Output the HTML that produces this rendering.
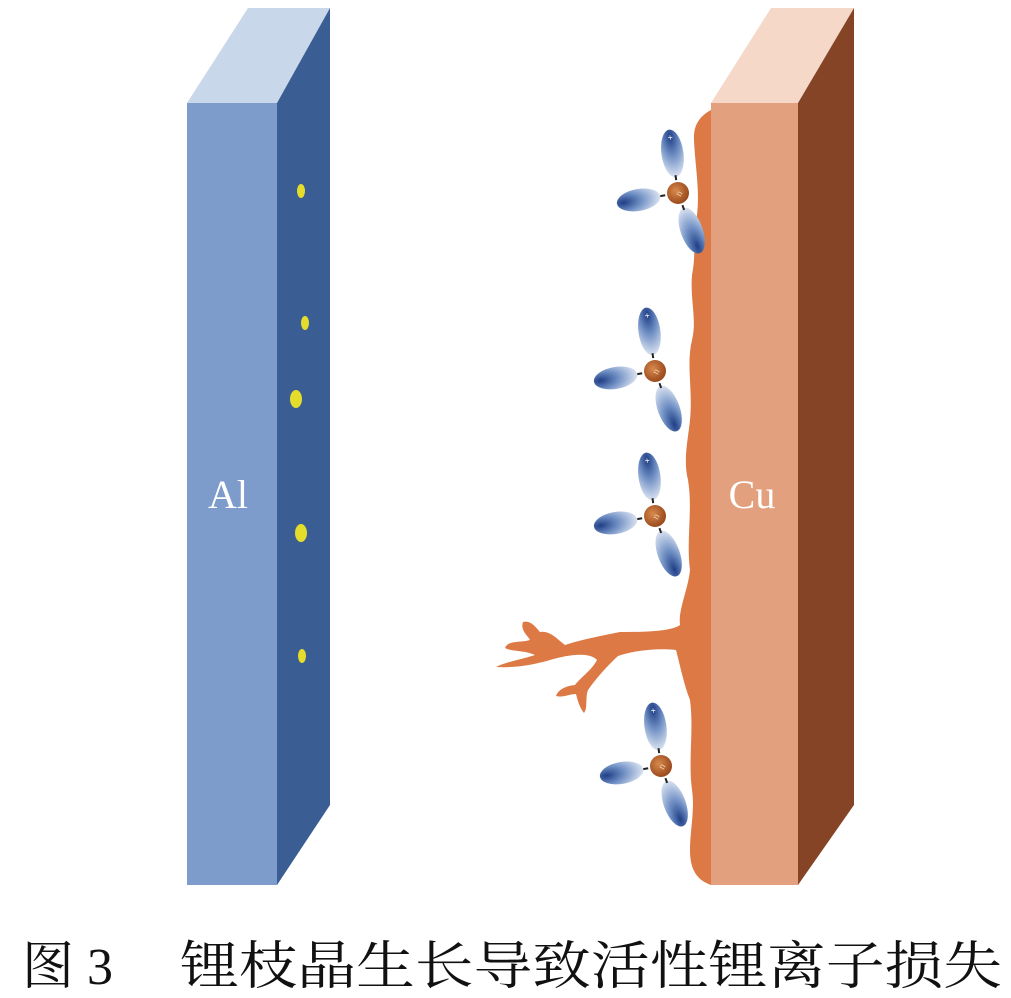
<!DOCTYPE html>
<html><head><meta charset="utf-8"><style>
html,body{margin:0;padding:0;background:#fff;}
body{width:1011px;height:998px;overflow:hidden;position:relative;}
</style></head><body>
<svg width="1011" height="998" viewBox="0 0 1011 998" xmlns="http://www.w3.org/2000/svg" style="position:absolute;left:0;top:0">
<defs>
<radialGradient id="ell" cx="0.5" cy="0.15" r="0.9">
<stop offset="0" stop-color="#1f3e86"/><stop offset="0.45" stop-color="#6f8fc4"/><stop offset="1" stop-color="#e6ecf6"/>
</radialGradient>
<radialGradient id="core" cx="0.4" cy="0.4" r="0.6">
<stop offset="0" stop-color="#d88a4c"/><stop offset="1" stop-color="#9b4a1e"/>
</radialGradient>
<g id="mol">
<g transform="rotate(-8)"><ellipse cx="0" cy="-40" rx="11" ry="24" fill="url(#ell)"/><text x="0" y="-53" font-size="9" fill="#fff" text-anchor="middle" font-family="Liberation Sans,sans-serif">+</text><rect x="-1" y="-18" width="2" height="5" fill="#222"/></g>
<g transform="rotate(-100)"><ellipse cx="0" cy="-40" rx="11" ry="22" fill="url(#ell)"/><rect x="-1" y="-18" width="2" height="5" fill="#222"/></g>
<g transform="rotate(160)"><ellipse cx="0" cy="-40" rx="11" ry="24" fill="url(#ell)"/><rect x="-1" y="-18" width="2" height="5" fill="#222"/></g>
<circle r="11" fill="url(#core)"/>
<text x="0" y="4" font-size="10" fill="#f3d2b0" text-anchor="middle" font-family="Liberation Serif,serif" transform="rotate(-60)">n</text>
</g>
</defs>
<!-- Al -->
<polygon points="187,103 277,103 330,8 248,8" fill="#c9d7ea"/>
<polygon points="277,103 330,8 330,805 277,885" fill="#3a5d93"/>
<rect x="187" y="103" width="90" height="782" fill="#7d9bcb"/>
<text x="228" y="508" font-family="Liberation Serif,serif" font-size="40" fill="#fff" text-anchor="middle">Al</text>
<g fill="#e4dd2c">
<ellipse cx="301" cy="191" rx="4" ry="7"/>
<ellipse cx="305" cy="323" rx="4" ry="7"/>
<ellipse cx="296" cy="399" rx="6" ry="9"/>
<ellipse cx="301" cy="533" rx="6" ry="9"/>
<ellipse cx="302" cy="656" rx="4" ry="7"/>
</g>
<!-- Cu -->
<polygon points="711,103 798,103 854,8 771,8" fill="#f5d8c8"/>
<polygon points="798,103 854,8 854,805 798,885" fill="#864427"/>
<rect x="711" y="103" width="87" height="782" fill="#e2a07e"/>
<!-- deposit -->
<path d="M711,110 C700,116 693,125 694,140 C695,165 700,190 697,215 C693,240 696,255 692,275 C690,300 697,320 692,340 C686,365 693,390 690,420 C688,440 683,460 688,480 C693,510 686,540 690,570 C688,590 678,610 680,625 C670,632 640,632 620,632 C600,636 580,640 565,645 C558,640 550,630 540,632 C535,626 530,620 523,622 C520,630 528,636 530,640 C520,643 508,640 505,648 C512,652 525,650 535,655 C520,660 505,662 496,667 C510,668 530,666 550,660 C570,654 590,652 597,660 C592,670 580,678 575,685 C565,686 558,690 556,696 C562,698 570,694 576,694 C578,702 580,708 584,713 C588,708 585,698 588,690 C595,680 605,668 618,656 C635,650 660,648 676,650 C680,665 684,685 690,700 C694,730 688,760 692,790 C695,810 690,830 690,850 C690,870 697,880 711,885 Z" fill="#dc7944"/>
<text x="752" y="508" font-family="Liberation Serif,serif" font-size="40" fill="#fff" text-anchor="middle">Cu</text>
<use href="#mol" x="678" y="193"/>
<use href="#mol" x="655" y="371"/>
<use href="#mol" x="655" y="516"/>
<use href="#mol" x="661" y="766"/>
<!-- caption -->
<text x="22" y="984" font-family="Liberation Serif,'Noto Serif CJK SC',serif" font-size="52" fill="#111">图 3</text>
<text x="180" y="984" font-family="Liberation Serif,'Noto Serif CJK SC',serif" font-size="52" fill="#111" textLength="822" lengthAdjust="spacingAndGlyphs">锂枝晶生长导致活性锂离子损失</text>
</svg>
</body></html>
